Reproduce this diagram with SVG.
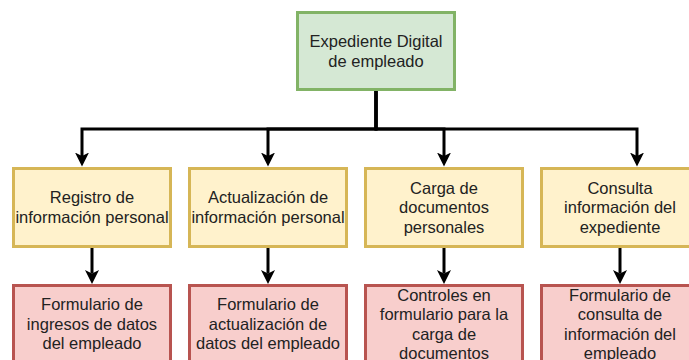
<svg xmlns="http://www.w3.org/2000/svg" width="689" height="360" viewBox="0 0 689 360">
<style>
.box{stroke-width:3}
.g{fill:#d5e8d4;stroke:#82b366}
.y{fill:#fff2cc;stroke:#d6b656}
.r{fill:#f8cecc;stroke:#b85450}
text{font-family:"Liberation Sans",Arial,Helvetica,sans-serif;font-size:16.5px;fill:#222;text-anchor:middle}
.edge{fill:none;stroke:#000;stroke-width:3;marker-end:url(#arr)}
</style>
<defs>
<marker id="arr" markerUnits="userSpaceOnUse" markerWidth="16" markerHeight="16" refX="3.5" refY="7" orient="auto" viewBox="0 0 16 16">
<path d="M14,7 L0,0 L3.5,7 L0,14 Z" fill="#000"/>
</marker>
</defs>
<g id="connectors">
<path class="edge" d="M376,90 V129 H82 V156"/>
<path class="edge" d="M376,90 V129 H268 V156"/>
<path class="edge" d="M376,90 V129 H444 V156"/>
<path class="edge" d="M376,90 V129 H637 V156"/>
<path class="edge" d="M92,247 V273.5"/>
<path class="edge" d="M268,247 V273.5"/>
<path class="edge" d="M444,247 V273.5"/>
<path class="edge" d="M620,247 V273.5"/>
</g>
<g id="root">
<rect class="box g" x="297.5" y="12.5" width="157" height="77"/>
<text x="376" y="46.5">Expediente Digital</text>
<text x="376" y="66.5">de empleado</text>
</g>
<g id="registro">
<rect class="box y" x="13.5" y="168.5" width="157" height="78"/>
<text x="92" y="202.5">Registro de</text>
<text x="92" y="222.5">información personal</text>
</g>
<g id="actualizacion">
<rect class="box y" x="189.5" y="168.5" width="157" height="78"/>
<text x="268" y="202.5">Actualización de</text>
<text x="268" y="222.5">información personal</text>
</g>
<g id="carga">
<rect class="box y" x="365.5" y="168.5" width="157" height="78"/>
<text x="444" y="193.5">Carga de</text>
<text x="444" y="213">documentos</text>
<text x="444" y="232.5">personales</text>
</g>
<g id="consulta">
<rect class="box y" x="541.5" y="168.5" width="157" height="78"/>
<text x="620" y="193.5">Consulta</text>
<text x="620" y="213">información del</text>
<text x="620" y="232.5">expediente</text>
</g>
<g id="form-registro">
<rect class="box r" x="13.5" y="285.5" width="157" height="78"/>
<text x="92" y="310">Formulario de</text>
<text x="92" y="329.5">ingresos de datos</text>
<text x="92" y="349">del empleado</text>
</g>
<g id="form-actualizacion">
<rect class="box r" x="189.5" y="285.5" width="157" height="78"/>
<text x="268" y="310">Formulario de</text>
<text x="268" y="329.5">actualización de</text>
<text x="268" y="349">datos del empleado</text>
</g>
<g id="controles-carga">
<rect class="box r" x="365.5" y="285.5" width="157" height="78"/>
<text x="444" y="300.5">Controles en</text>
<text x="444" y="320">formulario para la</text>
<text x="444" y="339.5">carga de</text>
<text x="444" y="359">documentos</text>
</g>
<g id="form-consulta">
<rect class="box r" x="541.5" y="285.5" width="157" height="78"/>
<text x="620" y="300.5">Formulario de</text>
<text x="620" y="320">consulta de</text>
<text x="620" y="339.5">información del</text>
<text x="620" y="359">empleado</text>
</g>
</svg>
